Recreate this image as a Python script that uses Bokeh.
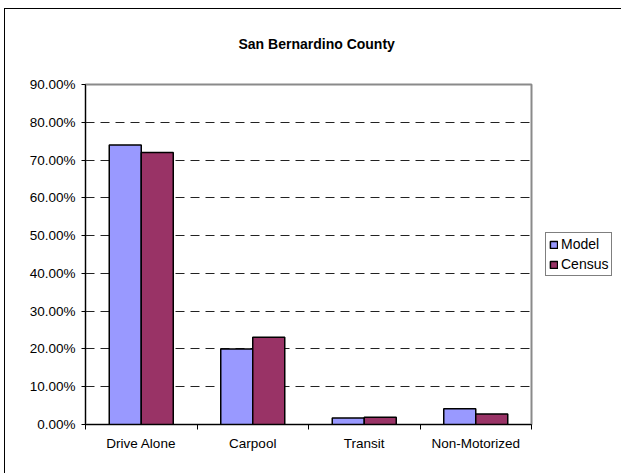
from bokeh.plotting import figure
from bokeh.models import (Range1d, FixedTicker, NumeralTickFormatter, Legend,
                          LegendItem, ColumnDataSource)
from bokeh.transform import dodge
from bokeh.embed import file_html
from bokeh.resources import INLINE

# Mode share by travel mode, San Bernardino County
modes = ["Drive Alone", "Carpool", "Transit", "Non-Motorized"]
model = [0.740, 0.200, 0.017, 0.042]
census = [0.720, 0.231, 0.019, 0.028]
y_ticks = [0.0, 0.1, 0.2, 0.3, 0.4, 0.5, 0.6, 0.7, 0.8, 0.9]

FONT = "Liberation Sans"
MODEL_COLOR = "#9999FF"
CENSUS_COLOR = "#993366"

pos = [i + 0.5 for i in range(len(modes))]
src = ColumnDataSource(dict(pos=pos, model=model, census=census))

p = figure(frame_width=446, frame_height=340, output_backend="svg",
           toolbar_location=None,
           x_range=Range1d(0, len(modes)), y_range=Range1d(0, 0.9),
           min_border_left=85, min_border_right=90, min_border_top=84,
           min_border_bottom=49, title="San Bernardino County")
p.background_fill_color = "white"
p.border_fill_color = None
# Chart-area border along the top and left edges of the page
p.styles = {"background-color": "white",
            "box-shadow": "inset 4px 8px 0 0 white, inset 5px 9px 0 0 black"}
p.outline_line_color = "#8a8a8a"
p.outline_line_width = 2

p.title.align = "left"
p.title.text_font = FONT
p.title.text_font_size = "14px"
p.title.text_font_style = "bold"
p.title.text_color = "black"
p.title.offset = 153
p.title.standoff = 66

# Gridlines: dashed, only between the axis floor and the top
p.xgrid.visible = False
p.ygrid.ticker = FixedTicker(ticks=y_ticks[1:-1])
p.ygrid.grid_line_color = "#222222"
p.ygrid.grid_line_dash = "9 6"
p.ygrid.grid_line_width = 1

# Y axis
p.yaxis.ticker = FixedTicker(ticks=y_ticks)
p.yaxis.formatter = NumeralTickFormatter(format="0.00%")
p.yaxis.axis_line_color = "black"
p.yaxis.major_tick_line_color = "black"
p.yaxis.major_tick_out = 4
p.yaxis.major_tick_in = 0
p.yaxis.minor_tick_line_color = None
p.yaxis.major_label_standoff = 6
p.yaxis.major_label_text_font = FONT
p.yaxis.major_label_text_font_size = "13.5px"
p.yaxis.major_label_text_color = "black"

# X axis: labels at category centres, ticks at category boundaries
p.xaxis.ticker = FixedTicker(ticks=pos, minor_ticks=list(range(len(modes) + 1)))
p.xaxis.major_label_overrides = {v: m for v, m in zip(pos, modes)}
p.xaxis.axis_line_color = "black"
p.xaxis.major_tick_out = 0
p.xaxis.major_tick_in = 0
p.xaxis.minor_tick_line_color = "black"
p.xaxis.minor_tick_out = 5
p.xaxis.minor_tick_in = 0
p.xaxis.major_label_standoff = 6
p.xaxis.major_label_text_font = FONT
p.xaxis.major_label_text_font_size = "13.5px"
p.xaxis.major_label_text_color = "black"

bar_w = 0.287
r_model = p.vbar(x=dodge("pos", -bar_w / 2, range=p.x_range), top="model",
                 width=bar_w, source=src, fill_color=MODEL_COLOR,
                 line_color="black", line_width=1.5)
r_census = p.vbar(x=dodge("pos", bar_w / 2, range=p.x_range), top="census",
                  width=bar_w, source=src, fill_color=CENSUS_COLOR,
                  line_color="black", line_width=1.5)

legend = Legend(items=[LegendItem(label="Model", renderers=[r_model]),
                       LegendItem(label="Census", renderers=[r_census])],
                location="center_left", orientation="vertical")
legend.label_text_font = FONT
legend.label_text_font_size = "14px"
legend.label_text_color = "black"
legend.glyph_width = 9
legend.glyph_height = 9
legend.label_standoff = 3
legend.label_height = 16
legend.spacing = 4
legend.padding = 3
legend.margin = 14
legend.border_line_color = "black"
legend.border_line_width = 1
p.add_layout(legend, "right")

open("out.html", "w").write(file_html(p, INLINE))
